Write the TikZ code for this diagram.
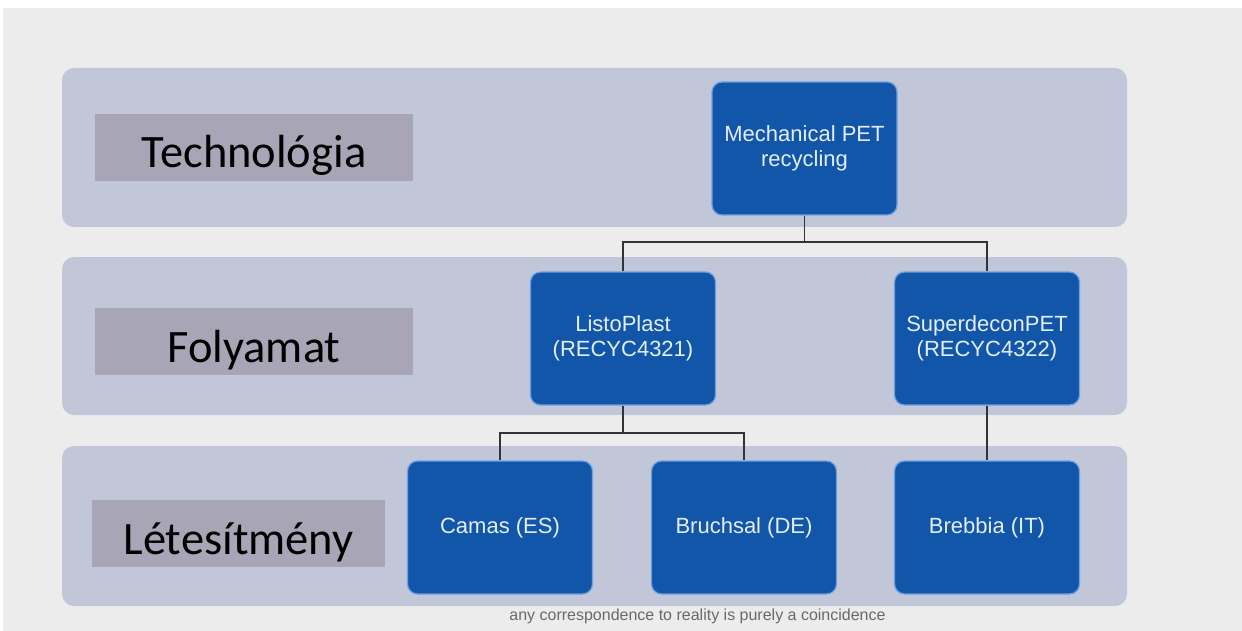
\documentclass[tikz,border=0pt]{standalone}
\usepackage{fontspec}
\setmainfont{Liberation Sans}
\newfontfamily\labelfont{Carlito}
\definecolor{bg}{RGB}{236,236,236}
\definecolor{band}{RGB}{193,198,216}
\definecolor{lab}{RGB}{168,166,182}
\definecolor{boxblue}{RGB}{18,86,170}
\definecolor{boxedge}{RGB}{110,160,225}
\definecolor{boxtext}{RGB}{228,238,250}
\definecolor{conn}{RGB}{50,50,55}
\definecolor{foottext}{RGB}{105,105,105}
\begin{document}
\begin{tikzpicture}[x=1pt,y=-1pt,
  orgbox/.style={rectangle, rounded corners=10pt, fill=boxblue, draw=boxedge, line width=1.2pt,
    minimum width=185pt, minimum height=133pt, text=boxtext,
    font=\fontsize{22}{25}\selectfont, align=center, inner sep=0pt},
  bandbox/.style={fill=band, rounded corners=12pt},
  labbox/.style={rectangle, fill=lab, inner sep=0pt, text height=54pt, text depth=13pt,
    font=\labelfont\fontsize{46.5}{50}\selectfont, text=black},
  wire/.style={draw=conn, line width=1.1pt}]
\useasboundingbox (0,0) rectangle (1242,631);
\fill[white] (0,0) rectangle (1242,631);
\fill[bg] (3,8) rectangle (1242,631);
% bands
\fill[bandbox] (62,68) rectangle (1127,227);
\fill[bandbox] (62,257) rectangle (1127,415);
\fill[bandbox] (62,446) rectangle (1127,606);
% level labels
\node[labbox, minimum width=318pt] (tech) at (254,147.5) {Technológia};
\node[labbox, minimum width=318pt] (foly) at (254,341.5) {Folyamat};
\node[labbox, minimum width=293pt] (letes) at (238.5,533.5) {Létesítmény};
% boxes
\node[orgbox] (mech) at (804.5,148.5) {Mechanical PET\\recycling};
\node[orgbox] (listo) at (623,338.5) {ListoPlast\\(RECYC4321)};
\node[orgbox] (super) at (987,338.5) {SuperdeconPET\\(RECYC4322)};
\node[orgbox] (camas) at (500,527.5) {Camas (ES)};
\node[orgbox] (bruch) at (744,527.5) {Bruchsal (DE)};
\node[orgbox] (brebb) at (987,527.5) {Brebbia (IT)};
% junctions
\coordinate (j1) at (804.5,242);
\coordinate (j2) at (623,433);
% connectors
\draw[wire] (mech.south) -- (j1);
\draw[wire] (listo.north) |- (j1) -| (super.north);
\draw[wire] (listo.south) -- (j2);
\draw[wire] (camas.north) |- (j2) -| (bruch.north);
\draw[wire] (super.south) -- (brebb.north);
% footer
\node[font=\fontsize{16}{19}\selectfont, text=foottext, anchor=base, inner sep=0pt] (foot) at (697.5,620) {any correspondence to reality is purely a coincidence};
\end{tikzpicture}
\end{document}
